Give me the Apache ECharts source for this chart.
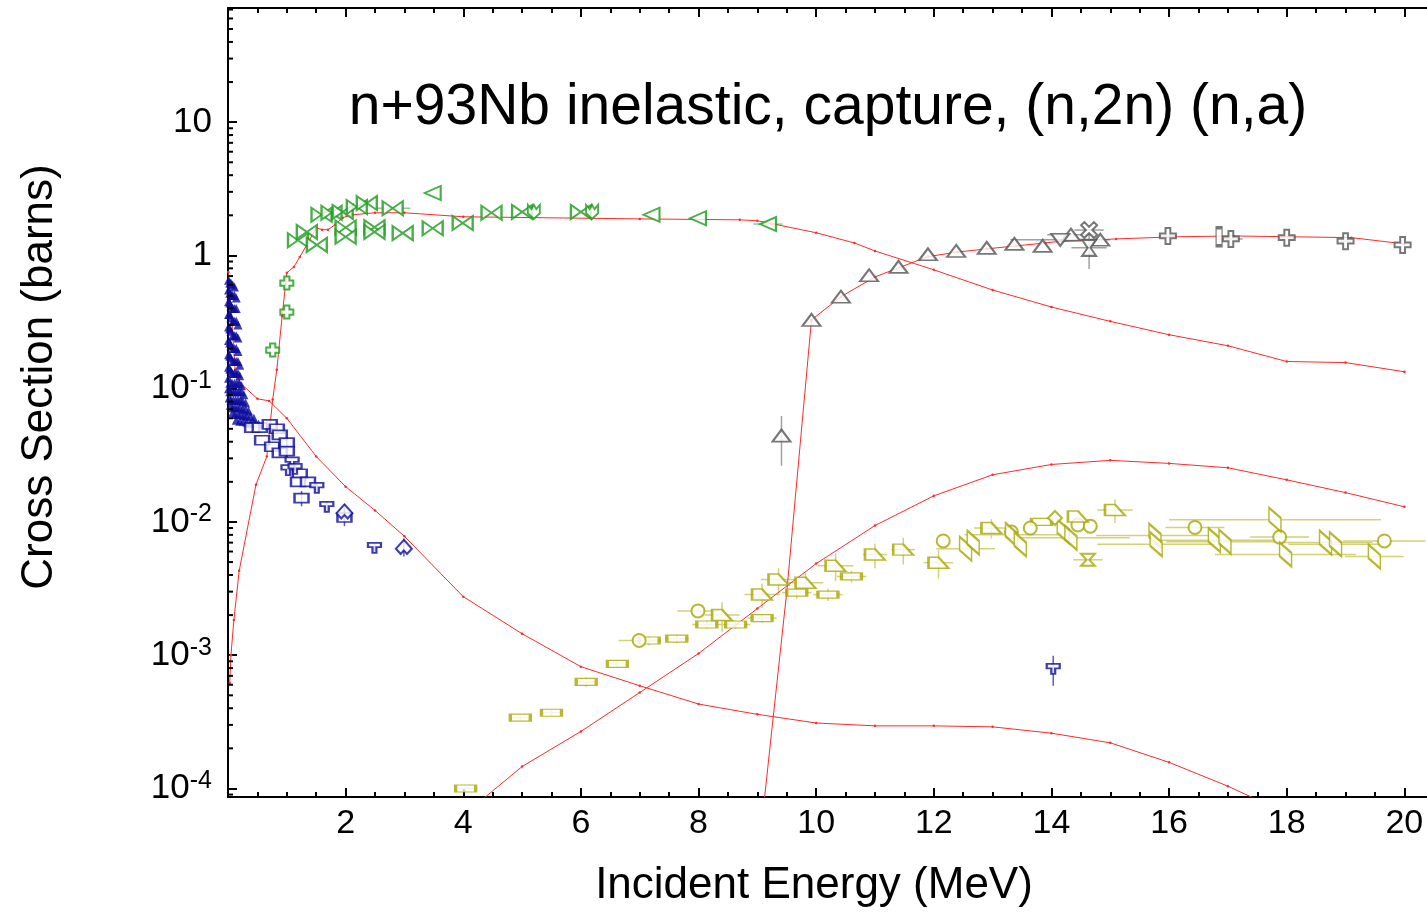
<!DOCTYPE html>
<html><head><meta charset="utf-8">
<script src="https://cdn.jsdelivr.net/npm/echarts@6/dist/echarts.min.js"></script>
<style>html,body{margin:0;padding:0;background:#fff;overflow:hidden;width:1427px;height:913px}#c{width:1525px;height:913px}</style>
</head><body><div id="c"></div>
<script>
const FONT = '"Liberation Sans", Arial, Helvetica, sans-serif';
const titleText = 'n+93Nb inelastic, capture, (n,2n) (n,a)';
const xName = 'Incident Energy (MeV)';
const yName = 'Cross Section (barns)';
const xMin = 0, xMax = 22, xInterval = 2;
const yMin = 8.63e-5, yMax = 71.9;

// evaluated curves (red)
const inelEval = [[0.03,6.2e-4],[0.05,1.0e-3],[0.10,1.84e-3],[0.19,4.3e-3],[0.475,0.019],[0.66,0.031],[0.76,0.083],[0.83,0.139],[0.92,0.35],[1.0,0.74],[1.12,0.82],[1.22,0.975],[1.34,1.2],[1.5,1.61],[1.6,1.56],[1.7,1.56],[1.82,1.70],[1.95,1.92],[2.12,2.02],[2.5,2.09],[3.0,2.09],[4.0,1.95],[7.0,1.88],[8.7,1.85],[9.0,1.82],[9.25,1.73],[10.0,1.48],[10.65,1.24],[11.0,1.08],[12.0,0.78],[13.0,0.55],[14.0,0.41],[15.0,0.32],[16.0,0.254],[17.0,0.21],[18.0,0.16],[19.0,0.157],[20.0,0.134]];
const captEval = [[0.005,0.75],[0.034,0.49],[0.068,0.31],[0.12,0.139],[0.2,0.111],[0.5,0.084],[0.7,0.081],[1.0,0.060],[1.5,0.031],[2.0,0.0184],[2.5,0.0122],[3.0,7.8e-3],[4.0,2.75e-3],[5.0,1.45e-3],[6.0,8.2e-4],[7.0,5.9e-4],[8.0,4.3e-4],[9.0,3.6e-4],[10.0,3.1e-4],[11.0,2.95e-4],[12.0,2.95e-4],[13.0,2.9e-4],[14.0,2.6e-4],[15.0,2.2e-4],[16.0,1.57e-4],[17.0,1.04e-4],[18.0,6.5e-5]];
const n2nEval = [[9.0,2.7e-5],[9.5,3.0e-3],[9.92,0.328],[10.42,0.49],[11.0,0.69],[11.9,0.98],[12.4,1.06],[12.9,1.12],[13.4,1.18],[13.9,1.24],[14.1,1.27],[15.1,1.33],[16.1,1.38],[17.1,1.40],[18.1,1.38],[19.1,1.36],[20.0,1.22]];
const naEval = [[4.0,6.3e-5],[5.0,1.46e-4],[6.0,2.68e-4],[7.0,5.25e-4],[8.0,1.03e-3],[9.0,2.24e-3],[10.0,4.87e-3],[11.0,9.4e-3],[12.0,0.0157],[13.0,0.0226],[14.0,0.027],[15.0,0.029],[16.0,0.0275],[17.0,0.0255],[18.0,0.0207],[19.0,0.0166],[20.0,0.013]];

// experimental: inelastic (green)
const inelBow = [[1.19,1.30],[1.34,1.5],[1.51,1.2],[1.59,2.02],[1.76,2.09],[1.95,2.12],[2.19,2.31],[2.36,2.47],[2.0,1.62],[2.0,1.38],[2.49,1.63],[2.49,1.5],[2.8,2.26],[2.97,1.47],[3.48,1.6],[3.99,1.75],[4.48,2.09],[5.0,2.12],[6.0,2.12]];
const inelTri = [[3.48,2.94],[7.2,2.02],[7.99,1.9],[9.18,1.72]];
const inelTulip = [[5.2,2.12],[6.19,2.12]];
const inelLow = [[0.76,0.195],[1.0,0.376],[1.0,0.62]];
const inelErr = [[2.8,2.26,0.3,0],[9.18,1.72,0.25,0],[1.0,0.62,0,0.05]];

// experimental: capture (blue)
const captBand = [
 [0.01,0.65],[0.03,0.62],[0.05,0.62],[0.08,0.6],[0.11,0.58],
 [0.01,0.55],[0.03,0.52],[0.05,0.5],[0.08,0.5],[0.11,0.5],[0.14,0.48],
 [0.01,0.45],[0.03,0.44],[0.05,0.42],[0.08,0.4],[0.11,0.4],[0.14,0.4],
 [0.01,0.36],[0.03,0.36],[0.05,0.34],[0.08,0.32],[0.11,0.32],[0.14,0.32],[0.17,0.3],
 [0.01,0.29],[0.03,0.28],[0.05,0.27],[0.08,0.25],[0.11,0.25],[0.14,0.25],[0.17,0.24],
 [0.01,0.23],[0.03,0.22],[0.05,0.21],[0.08,0.2],[0.11,0.2],[0.14,0.2],[0.17,0.19],
 [0.01,0.18],[0.03,0.175],[0.05,0.17],[0.08,0.16],[0.11,0.16],[0.14,0.16],[0.17,0.16],[0.2,0.15],
 [0.01,0.145],[0.03,0.14],[0.05,0.135],[0.08,0.13],[0.11,0.13],[0.14,0.13],[0.17,0.13],[0.2,0.125],
 [0.01,0.12],[0.03,0.11],[0.07,0.11],[0.11,0.11],[0.15,0.11],[0.19,0.11],[0.23,0.105],
 [0.01,0.1],[0.03,0.095],[0.07,0.095],[0.11,0.095],[0.15,0.095],[0.19,0.095],[0.23,0.095],[0.27,0.09],
 [0.02,0.085],[0.05,0.082],[0.09,0.082],[0.13,0.082],[0.17,0.082],[0.21,0.082],[0.25,0.08],[0.3,0.078],
 [0.04,0.075],[0.08,0.072],[0.12,0.072],[0.16,0.072],[0.2,0.072],[0.25,0.07],[0.3,0.07],[0.35,0.068],
 [0.08,0.066],[0.12,0.064],[0.17,0.064],[0.22,0.064],[0.27,0.063],[0.32,0.062],[0.38,0.062],[0.44,0.06],
 [0.14,0.058],[0.2,0.057],[0.26,0.057],[0.32,0.056],[0.38,0.055],[0.45,0.055],[0.52,0.054]
];
const captBox = [[0.41,0.051],[0.54,0.051],[0.71,0.054],[0.83,0.05],[0.88,0.045],[0.58,0.041],[0.75,0.0367],[1.0,0.0394],[0.88,0.033],[1.0,0.034],[1.22,0.023],[1.19,0.020],[1.36,0.020],[1.25,0.0151],[1.98,0.0108]];
const captTee = [[1.09,0.028],[1.02,0.0245],[1.14,0.025],[1.51,0.018],[1.68,0.013],[2.49,6.4e-3],[14.03,7.9e-4]];
const captChev = [[1.98,0.012],[2.99,6.5e-3]];
const captErr = [[1.25,0.0151,0,0.002],[1.98,0.0108,0,0.0015],[1.98,0.012,0,0.0016],[2.99,6.5e-3,0,1.0e-3],[14.03,7.9e-4,0,2.0e-4],[1.68,0.013,0,0.0012],[2.49,6.4e-3,0,5e-4],[1.51,0.018,0,0.0015],[1.0,0.0394,0,0.004]];

// experimental: (n,2n) (gray)
const n2nTri = [[9.41,0.0444],[9.92,0.328],[10.42,0.49],[10.9,0.71],[11.4,0.82],[11.9,1.02],[12.38,1.08],[12.9,1.14],[13.37,1.22],[13.85,1.18],[14.33,1.43],[14.83,1.31]];
const n2nInv = [[14.15,1.31]];
const n2nCross = [[15.98,1.40],[17.05,1.33],[18.0,1.36],[19.0,1.28],[19.97,1.2]];
const n2nX = [[14.64,1.55]];
const n2nHour = [[14.64,1.14]];
const n2nBar = [[16.85,1.38]];
const n2nErr = [[9.41,0.0444,0,0.018],[14.15,1.31,0.85,0],[14.64,1.14,0.3,0.35],[14.64,1.55,0.25,0],[14.33,1.43,0.4,0],[15.98,1.40,0.15,0],[17.05,1.33,0.2,0],[18.0,1.36,0.15,0],[19.0,1.28,0.1,0]];

// experimental: (n,a) (olive)
const naRect = [[4.04,1.0e-4],[4.97,3.4e-4],[5.5,3.7e-4],[6.09,6.3e-4],[6.62,8.6e-4],[7.16,1.29e-3],[7.63,1.33e-3],[8.14,1.7e-3],[8.63,1.7e-3],[9.08,1.9e-3],[9.67,2.95e-3],[10.2,2.85e-3],[10.6,3.9e-3],[13.83,0.010]];
const naCircle = [[6.99,1.29e-3],[7.99,2.15e-3],[12.16,7.2e-3],[13.32,8.4e-3],[13.64,9.0e-3],[14.45,9.5e-3],[14.66,9.3e-3],[16.44,9.1e-3],[17.88,7.7e-3],[19.66,7.2e-3]];
const naTrap = [[8.4,2.0e-3],[9.08,2.85e-3],[9.36,3.7e-3],[9.82,3.5e-3],[10.33,4.7e-3],[11.0,5.7e-3],[11.48,6.2e-3],[12.08,4.95e-3],[12.98,9.0e-3],[14.45,0.011],[15.08,0.0123]];
const naPar = [[12.54,6.3e-3],[12.67,7.0e-3],[13.32,8.0e-3],[13.47,6.8e-3],[14.2,8.5e-3],[14.33,7.6e-3],[15.76,7.9e-3],[15.78,6.8e-3],[16.77,7.3e-3],[16.95,7.1e-3],[17.8,0.0104],[17.98,5.7e-3],[18.66,7.0e-3],[18.83,6.8e-3],[19.49,5.5e-3]];
const naDia = [[14.06,0.0107]];
const naHour = [[14.62,5.2e-3]];
const naErr = [[4.04,1.0e-4,0.15,0.6e-5],[4.97,3.4e-4,0.15,2e-5],[5.5,3.7e-4,0.15,2e-5],[6.09,6.3e-4,0.15,5e-5],[6.62,8.6e-4,0.15,6e-5],[7.16,1.29e-3,0.2,1e-4],[7.63,1.33e-3,0.2,1e-4],[8.14,1.7e-3,0.25,1.3e-4],[8.63,1.7e-3,0.25,1.3e-4],[9.08,1.9e-3,0.25,1.5e-4],[9.67,2.95e-3,0.25,3e-4],[10.2,2.85e-3,0.25,3e-4],[10.6,3.9e-3,0.25,4e-4],
 [6.99,1.29e-3,0.35,0],[7.99,2.15e-3,0.35,0],
 [8.4,2.0e-3,0.3,5e-4],[9.08,2.85e-3,0.3,6e-4],[9.36,3.7e-3,0.3,8e-4],[9.82,3.5e-3,0.3,6e-4],[10.33,4.7e-3,0.3,1.1e-3],[11.0,5.7e-3,0.2,1.2e-3],[11.48,6.2e-3,0.2,1.4e-3],[12.08,4.95e-3,0.25,1.2e-3],[12.98,9.0e-3,0.3,1.5e-3],[15.08,0.0123,0.3,2.5e-3],
 [12.54,6.3e-3,0.5,0],[13.32,8.0e-3,0.8,0],[14.33,7.6e-3,1.0,0],[15.76,7.9e-3,1.0,0],[15.78,6.8e-3,1.0,0],[16.77,7.3e-3,1.0,0],[16.95,7.1e-3,1.0,0],[17.8,0.0104,1.8,0],[17.98,5.7e-3,1.2,0],[18.66,7.0e-3,0.8,0],[18.83,6.8e-3,0.8,0],[19.49,5.5e-3,0.5,0],[16.44,9.1e-3,0.5,0],[17.88,7.7e-3,0.5,0],[19.66,7.2e-3,0.7,0],[14.62,5.2e-3,0.25,0]];

// colours
const RED = '#ff2a2a', GREEN = '#1a9a1a', BLUE = '#0c0c9c', GRAY = '#555555', OLIVE = '#a6a600';

const SYM = {
  bow: 'path://M0,0L10,7L10,0L0,7Z',
  tulip: 'path://M0,0L3,3L5,0L7,3L10,0L10,6L5,10L0,6Z',
  triL: 'path://M0,5L10,0L10,10Z',
  tee: 'path://M0,0H10V4H6.5V9H3.5V4H0Z',
  chev: 'path://M5,0L10,5L7,8L5,6L3,8L0,5Z',
  plus: 'path://M3.5,0H6.5V3.5H10V6.5H6.5V10H3.5V6.5H0V3.5H3.5Z',
  xx: 'path://M2,0L5,3L8,0L10,2L7,5L10,8L8,10L5,7L2,10L0,8L3,5L0,2Z',
  hour: 'path://M0,0H10L6,5L10,10H0L4,5Z',
  trap: 'path://M0,0H5L10,7H0Z',
  par: 'path://M0,0L6,7V16L0,9Z',
  clover: 'path://M3,0H7V3H10V7H7V10H3V7H0V3H3Z'
};

function curve(data) {
  return { type: 'line', data: data, symbol: 'circle', symbolSize: 2.5, showSymbol: true, showAllSymbol: true,
    itemStyle: { color: RED }, lineStyle: { color: RED, width: 1 }, clip: true, z: 3, silent: true, animation: false };
}
function pts(data, symbol, size, color, filled) {
  return { type: 'scatter', data: data, symbol: symbol, symbolSize: size, clip: true, z: 4, silent: true, animation: false,
    itemStyle: filled ? { color: color } : { color: '#ffffff', borderColor: color, borderWidth: 2 } };
}
function errs(data, color) {
  return { type: 'custom', data: data, encode: { x: 0, y: 1 }, clip: true, z: 2, silent: true, animation: false,
    renderItem: function (params, api) {
      const x = api.value(0), y = api.value(1), dx = api.value(2), dy = api.value(3);
      const ch = [];
      if (dx > 0) {
        const a = api.coord([x - dx, y]), b = api.coord([x + dx, y]);
        ch.push({ type: 'line', shape: { x1: a[0], y1: a[1], x2: b[0], y2: b[1] }, style: { stroke: color, lineWidth: 1.5 } });
      }
      if (dy > 0) {
        const a = api.coord([x, Math.max(y - dy, 1e-8)]), b = api.coord([x, y + dy]);
        ch.push({ type: 'line', shape: { x1: a[0], y1: a[1], x2: b[0], y2: b[1] }, style: { stroke: color, lineWidth: 1.5 } });
      }
      return { type: 'group', children: ch };
    } };
}
// minor ticks of the log axis (2..9 x 10^k)
const yMinorVals = [];
for (let k = -5; k <= 1; k++) for (let m = 2; m <= 9; m++) { const v = m * Math.pow(10, k); if (v > yMin && v < yMax) yMinorVals.push([xMin, v]); }
const minorTicks = { type: 'custom', data: yMinorVals, encode: { x: 0, y: 1 }, clip: false, z: 10, silent: true, animation: false,
  renderItem: function (params, api) {
    const p = api.coord([api.value(0), api.value(1)]);
    return { type: 'line', shape: { x1: p[0], y1: p[1], x2: p[0] + 5, y2: p[1] }, style: { stroke: '#000', lineWidth: 2 } };
  } };

const chart = echarts.init(document.getElementById('c'), null, { renderer: 'canvas' });
const axisLineStyle = { show: true, lineStyle: { color: '#000', width: 2 } };
chart.setOption({
  animation: false,
  backgroundColor: '#fff',
  title: { text: titleText, left: 823, top: 75, textAlign: 'center',
    textStyle: { fontFamily: FONT, fontSize: 57, fontWeight: 'normal', color: '#000' } },
  graphic: [
    { type: 'text', x: 814, y: 886, style: { text: xName, font: '44px ' + FONT, fill: '#000', align: 'center', verticalAlign: 'middle' } },
    { type: 'text', x: 40, y: 377, rotation: Math.PI / 2, style: { text: yName, font: '44px ' + FONT, fill: '#000', align: 'center', verticalAlign: 'middle' } }
  ],
  grid: { left: 228, right: 0, top: 8, bottom: 116, containLabel: false },
  xAxis: [
    { type: 'value', min: xMin, max: xMax, interval: xInterval, position: 'bottom',
      axisLine: axisLineStyle,
      axisTick: { inside: true, length: 9, lineStyle: { color: '#000', width: 2 } },
      minorTick: { show: true, splitNumber: 4, length: 5, lineStyle: { color: '#000', width: 2 } },
      splitLine: { show: false }, minorSplitLine: { show: false },
      axisLabel: { fontFamily: FONT, fontSize: 34, color: '#000', margin: 10,
        formatter: function (v) { return (v > 0 && v <= 20) ? String(v) : ''; } } },
    { type: 'value', min: xMin, max: xMax, interval: xInterval, position: 'top',
      axisLine: axisLineStyle,
      axisTick: { inside: true, length: 9, lineStyle: { color: '#000', width: 2 } },
      minorTick: { show: true, splitNumber: 4, length: 5, lineStyle: { color: '#000', width: 2 } },
      splitLine: { show: false }, axisLabel: { show: false } }
  ],
  yAxis: [{ type: 'log', logBase: 10, min: yMin, max: yMax,
    axisLine: axisLineStyle,
    axisTick: { inside: true, length: 9, lineStyle: { color: '#000', width: 2 } },
    splitLine: { show: false },
    axisLabel: { margin: 16, color: '#000',
      formatter: function (v) {
        const e = Math.log10(v), r = Math.round(e);
        if (Math.abs(e - r) > 1e-6) return '';
        if (r === 0) return '{b|1}';
        if (r === 1) return '{b|10}';
        return '{b|10}{s|' + r + '}';
      },
      rich: { b: { fontFamily: FONT, fontSize: 35, color: '#000', lineHeight: 40 },
              s: { fontFamily: FONT, fontSize: 25, color: '#000', verticalAlign: 'top', lineHeight: 22 } } }
  }],
  series: [
    minorTicks,
    errs(inelErr, '#8fd08f'), errs(captErr, '#5a5ac8'), errs(n2nErr, '#a0a0a0'), errs(naErr, '#d2d27a'),
    curve(inelEval), curve(captEval), curve(n2nEval), curve(naEval),
    pts(captBand, 'triangle', 9, BLUE, true),
    pts(captBox, 'rect', [14, 9], BLUE, false),
    pts(captTee, SYM.tee, [13, 10], BLUE, false),
    pts(captChev, SYM.chev, [16, 14], BLUE, false),
    pts(inelBow, SYM.bow, [20, 14], GREEN, false),
    pts(inelTri, SYM.triL, [16, 14], GREEN, false),
    pts(inelTulip, SYM.tulip, [12, 14], GREEN, false),
    pts(inelLow, SYM.clover, [13, 13], GREEN, false),
    pts(n2nTri, 'triangle', [18, 12], GRAY, false),
    pts(n2nInv, 'path://M0,0H10L5,10Z', [18, 12], GRAY, false),
    pts(n2nCross, SYM.plus, [16, 16], GRAY, false),
    pts(n2nX, SYM.xx, [16, 16], GRAY, false),
    pts(n2nHour, SYM.hour, [14, 16], GRAY, false),
    pts(n2nBar, 'rect', [6, 18], GRAY, false),
    pts(naRect, 'rect', [20, 7], OLIVE, false),
    pts(naCircle, 'circle', 13, OLIVE, false),
    pts(naTrap, SYM.trap, [20, 11], OLIVE, false),
    pts(naPar, SYM.par, [12, 24], OLIVE, false),
    pts(naDia, 'diamond', [14, 14], OLIVE, false),
    pts(naHour, SYM.hour, [14, 12], OLIVE, false)
  ]
});
</script></body></html>
